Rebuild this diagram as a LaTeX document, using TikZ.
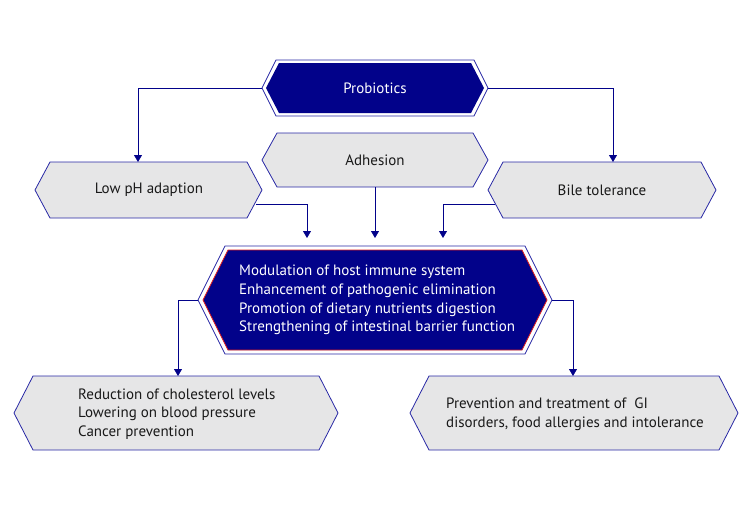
\documentclass[tikz,border=0pt]{standalone}
\usepackage{fontspec}
\setmainfont{PT Sans}
\usetikzlibrary{arrows.meta}
\definecolor{navy}{RGB}{2,2,138}
\definecolor{bordblue}{RGB}{40,40,165}
\definecolor{boxgrey}{RGB}{230,230,231}
\definecolor{redline}{RGB}{225,30,30}
\newcommand\hexpath[5]{(#1-#3,#2) -- (#1-#3+#5,#2-#4) -- (#1+#3-#5,#2-#4) -- (#1+#3,#2) -- (#1+#3-#5,#2+#4) -- (#1-#3+#5,#2+#4) -- cycle}
\tikzset{
  outline/.style={draw=bordblue,line width=0.8pt,fill=white},
  greybox/.style={draw=bordblue,line width=0.8pt,fill=boxgrey},
  navyfill/.style={fill=navy},
  redbord/.style={draw=redline,line width=0.8pt,fill=navy},
  conn/.style={draw=navy,line width=0.8pt,-{Triangle[length=7pt,width=8pt]}},
  whitetxt/.style={text=white,font=\fontsize{15}{18.7}\selectfont,inner sep=0pt},
  greytxt/.style={text=black!90,font=\fontsize{15}{18.7}\selectfont,inner sep=0pt},
  lowtxt/.style={text=black!90,font=\fontsize{15}{18.7}\selectfont,inner sep=0pt,align=left,anchor=west},
}
\begin{document}
\begin{tikzpicture}[x=1pt,y=-1pt]
\useasboundingbox (0,0) rectangle (750,515);
% Probiotics
\path[outline] \hexpath{375}{88}{113}{28}{14};
\path[navyfill] \hexpath{375}{88}{109}{25}{13};
\node[whitetxt] (prob) at (375,88) {Probiotics};
\coordinate (prob-l) at (262,88);
\coordinate (prob-r) at (488,88);
% Adhesion
\path[greybox] \hexpath{375}{160}{113}{27}{15};
\node[greytxt] (adh) at (375,160) {Adhesion};
\coordinate (adh-b) at (375,187);
% Low pH
\path[greybox] \hexpath{148.5}{190}{113.5}{28}{15};
\node[greytxt] (lph) at (149,190) {Low pH adaption};
\coordinate (lph-t) at (138,162);
\coordinate (lph-r) at (256,204);
% Bile
\path[greybox] \hexpath{602}{190}{114}{28}{15};
\node[greytxt] (bile) at (602,190) {Bile tolerance};
\coordinate (bile-t) at (613,162);
\coordinate (bile-l) at (495,204);
% Centre
\path[outline] \hexpath{375}{300}{177}{54}{27};
\path[redbord] \hexpath{375}{300}{172}{50}{25};
\node[whitetxt,align=left,anchor=west] (mid) at (239,300) {Modulation of host immune system\\Enhancement of pathogenic elimination\\Promotion of dietary nutrients digestion\\Strengthening of intestinal barrier function};
\coordinate (mid-l) at (198,300);
\coordinate (mid-r) at (552,300);
\coordinate (mid-t1) at (307,238);
\coordinate (mid-t2) at (375,238);
\coordinate (mid-t3) at (443,238);
% Bottom
\path[greybox] \hexpath{176}{413}{162}{37}{19};
\node[lowtxt] (bl) at (78,414) {Reduction of cholesterol levels\\Lowering on blood pressure\\Cancer prevention};
\coordinate (bl-t) at (178,376);
\path[greybox] \hexpath{574}{413}{164}{37}{19};
\node[lowtxt] (br) at (446,414) {Prevention and treatment of\ \ GI\\disorders, food allergies and intolerance};
\coordinate (br-t) at (573,376);
% connectors
\draw[conn] (prob-l) -| (lph-t);
\draw[conn] (prob-r) -| (bile-t);
\draw[conn] (lph-r) -| (mid-t1);
\draw[conn] (adh-b) -- (mid-t2);
\draw[conn] (bile-l) -| (mid-t3);
\draw[conn] (mid-l) -| (bl-t);
\draw[conn] (mid-r) -| (br-t);
\end{tikzpicture}
\end{document}
